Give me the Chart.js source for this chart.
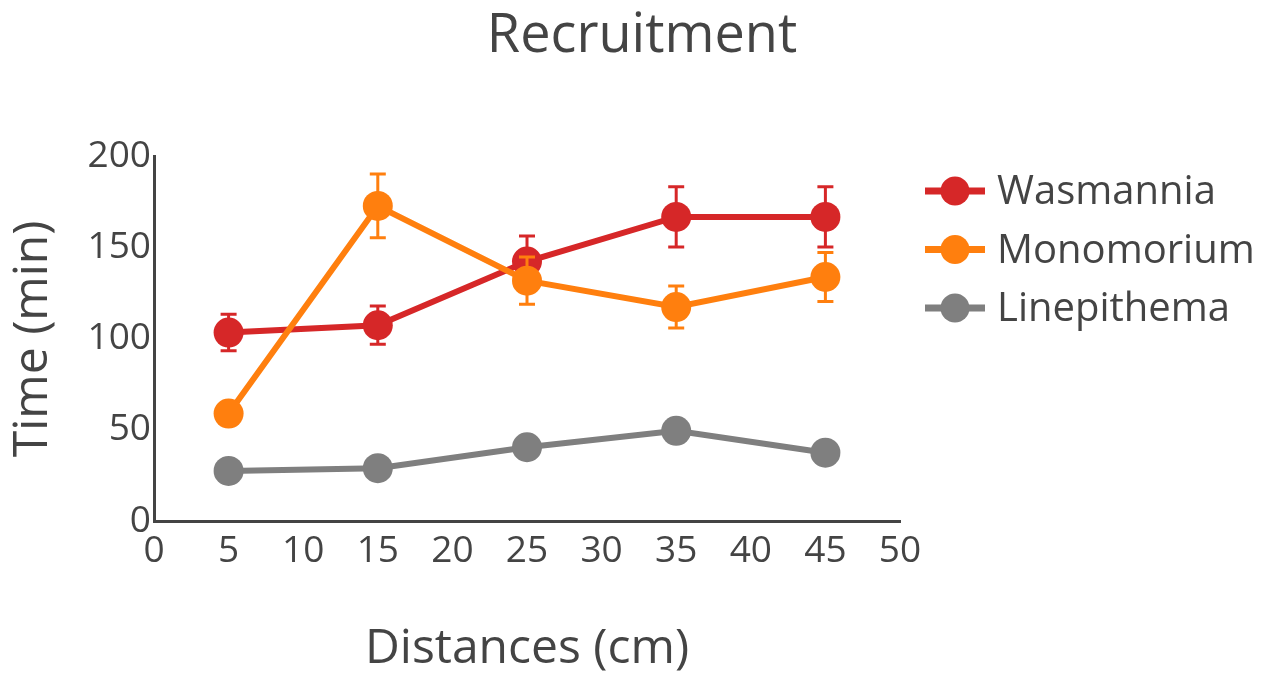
<!DOCTYPE html>
<html>
<head>
<meta charset="utf-8">
<script src="https://cdn.jsdelivr.net/npm/chart.js@4.4.1/dist/chart.umd.min.js"></script>
<style>
  html, body { margin: 0; padding: 0; background: #fff; }
</style>
</head>
<body>
<canvas id="myChart" width="1264" height="674"></canvas>
<script>
// values
const distances = [5, 15, 25, 35, 45];
const wasmannia = [103.5, 107.5, 142.5, 167, 167];
const wasmanniaErr = [10, 10.5, 14, 16.5, 16.5];
const monomorium = [59, 173, 132, 117.5, 134];
const monomoriumErr = [null, 17.5, 13, 11.5, 13.5];
const linepithema = [27.5, 29, 40.5, 49.5, 37.5];
const xTickRange = [0, 50, 5];   // min, max, step
const yTickRange = [0, 200, 50];

const textColor = '#444';
Chart.defaults.font.family = "'Open Sans', sans-serif";
Chart.defaults.color = textColor;

function points(ys) {
    return distances.map((d, i) => ({ x: d, y: ys[i] }));
}

function series(label, ys, errs, color, order) {
    return {
        label: label,
        data: points(ys),
        errors: errs,
        borderColor: color,
        backgroundColor: color,
        borderWidth: 6,
        pointRadius: 15,
        pointHoverRadius: 15,
        pointBorderWidth: 0,
        tension: 0,
        order: order
    };
}

// vertical error bars, drawn just before each series so its markers sit on top
const errorBars = {
    id: 'errorBars',
    beforeDatasetDraw(chart, args) {
        const ds = chart.data.datasets[args.index];
        if (!ds.errors) return;
        const ctx = chart.ctx;
        const xs = chart.scales.x, ys = chart.scales.y;
        ctx.save();
        ctx.strokeStyle = ds.borderColor;
        ctx.lineWidth = 3;
        ds.data.forEach((p, j) => {
            const e = ds.errors[j];
            if (e == null) return;
            const px = xs.getPixelForValue(p.x);
            const top = ys.getPixelForValue(p.y + e);
            const bot = ys.getPixelForValue(p.y - e);
            ctx.beginPath();
            ctx.moveTo(px, top); ctx.lineTo(px, bot);
            ctx.moveTo(px - 8, top); ctx.lineTo(px + 8, top);
            ctx.moveTo(px - 8, bot); ctx.lineTo(px + 8, bot);
            ctx.stroke();
        });
        ctx.restore();
    }
};

// legend on the right: line + marker + name
const sideLegend = {
    id: 'sideLegend',
    afterDraw(chart) {
        const ctx = chart.ctx;
        const x0 = chart.chartArea.right + 25;
        ctx.save();
        chart.data.datasets.forEach((ds, i) => {
            const y = 191 + i * 58.5;
            ctx.strokeStyle = ds.borderColor;
            ctx.lineWidth = 7;
            ctx.beginPath();
            ctx.moveTo(x0, y); ctx.lineTo(x0 + 60, y);
            ctx.stroke();
            ctx.fillStyle = ds.backgroundColor;
            ctx.beginPath();
            ctx.arc(x0 + 30, y, 14.5, 0, Math.PI * 2);
            ctx.fill();
            ctx.fillStyle = textColor;
            ctx.font = "40px 'Open Sans'";
            ctx.textBaseline = 'middle';
            ctx.fillText(ds.label, x0 + 72, y + 2);
        });
        ctx.restore();
    }
};

const ctx = document.getElementById('myChart').getContext('2d');
const myChart = new Chart(ctx, {
    type: 'line',
    data: {
        datasets: [
            series('Wasmannia', wasmannia, wasmanniaErr, '#d62728', 3),
            series('Monomorium', monomorium, monomoriumErr, '#ff7f0e', 2),
            series('Linepithema', linepithema, null, '#7f7f7f', 1)
        ]
    },
    options: {
        responsive: false,
        animation: false,
        layout: { padding: { left: 20, top: 0, right: 0, bottom: 0 } },
        plugins: {
            legend: { display: false },
            tooltip: { enabled: false },
            title: {
                display: true,
                text: 'Recruitment',
                color: textColor,
                font: { size: 54, weight: 'normal' },
                padding: { top: 4, bottom: 88 }
            }
        },
        scales: {
            x: {
                type: 'linear',
                min: xTickRange[0],
                max: xTickRange[1],
                grid: { display: false, drawTicks: false },
                border: { display: true, color: '#444', width: 3 },
                ticks: { stepSize: xTickRange[2], font: { size: 37 }, padding: 8, color: textColor },
                title: { display: true, text: 'Distances (cm)', font: { size: 48 }, color: textColor, padding: { top: 0, bottom: -4 } },
                afterFit(s) { s.height = 153; }
            },
            y: {
                type: 'linear',
                min: yTickRange[0],
                max: yTickRange[1],
                grid: { display: false, drawTicks: false },
                border: { display: true, color: '#444', width: 3 },
                ticks: { stepSize: yTickRange[2], font: { size: 37 }, padding: 3, color: textColor },
                title: { display: true, text: 'Time (min)', font: { size: 48 }, color: textColor, padding: { top: -15, bottom: 0 } },
                afterFit(s) { s.width = 134; }
            },
            // empty right-hand box that leaves room for the legend
            pad: {
                type: 'linear',
                position: 'right',
                display: true,
                grid: { display: false, drawTicks: false },
                border: { display: false },
                ticks: { display: false },
                afterFit(s) { s.width = 364; }
            }
        }
    },
    plugins: [errorBars, sideLegend]
});
</script>
</body>
</html>
